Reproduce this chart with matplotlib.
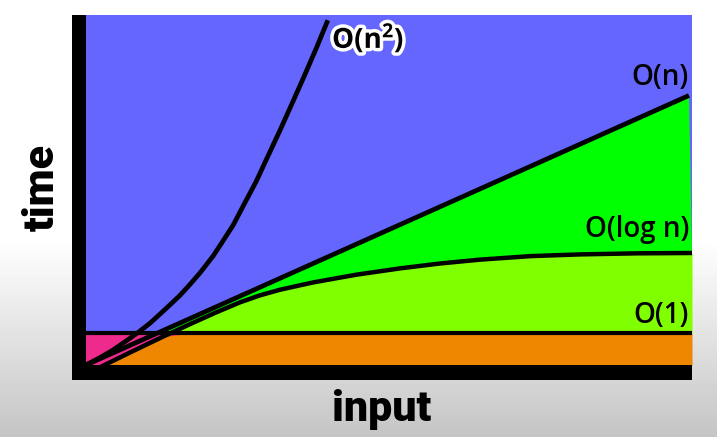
import numpy as np
import matplotlib
matplotlib.use("Agg")
import matplotlib.pyplot as plt
import matplotlib.patheffects as pe
from matplotlib.patches import Rectangle

# values (arbitrary units, x and y both 0..100)
quad_x = [0.0, 2.3, 4.3, 6.4, 8.6, 10.6, 13.0, 15.4, 17.2, 18.8, 21.0,
          22.1, 24.3, 26.2, 28.1, 30.0, 32.0, 34.0, 36.0, 38.0, 39.9]
quad_y = [0.0, 2.1, 4.1, 6.6, 9.3, 12.0, 15.8, 19.7, 23.1, 26.3, 31.2,
          34.1, 40.0, 46.3, 52.5, 59.6, 67.0, 74.7, 82.5, 90.5, 98.5]

lin_x = [0.0, 99.5]
lin_y = [0.0, 77.0]

log_x = [2.0, 7.3, 12.7, 17.2, 21.3, 25.4, 28.7, 32.0, 37.5, 44.6,
         51.8, 58.4, 65.0, 73.3, 81.5, 90.8, 100.0]
log_y = [-0.9, 3.6, 8.1, 11.7, 14.9, 17.9, 19.9, 21.5, 23.6, 25.8,
         27.6, 29.0, 30.1, 31.1, 31.6, 31.9, 32.0]

const_level = 9.1

labels = ["O(n$^2$)", "O(n)", "O(log n)", "O(1)"]

COL_BLUE = "#6466fe"
COL_GREEN = "#00ff00"
COL_LIME = "#80ff00"
COL_ORANGE = "#ee8600"
COL_PINK = "#ee2a8c"

plt.rcParams["mathtext.default"] = "regular"

W, H = 717, 437
fig = plt.figure(figsize=(W / 100, H / 100), dpi=100)

# background gradient (white top -> light gray bottom)
bg = fig.add_axes([0, 0, 1, 1], zorder=-5)
rows = np.linspace(0, 1, H)
shade = np.where(rows < 0.55, 1.0, 1.0 - (rows - 0.55) / 0.45 * 0.23)
bg.imshow(np.repeat(shade[:, None], 4, axis=1), cmap="gray", vmin=0, vmax=1,
          aspect="auto", extent=[0, 1, 0, 1], origin="upper")
bg.axis("off")

L, R, T, B = 86, 692, 15, 365
ax = fig.add_axes([L / W, 1 - B / H, (R - L) / W, (B - T) / H])
ax.set_facecolor(COL_BLUE)
ax.set_xlim(0, 100)
ax.set_ylim(0, 100)
for s in ax.spines.values():
    s.set_visible(False)
ax.set_xticks([])
ax.set_yticks([])

lx = np.array(log_x)
ly = np.array(log_y)

# between linear and log (drawn first, the lower bands cover its tail)
ax.fill(np.r_[lin_x, lx[::-1]], np.r_[lin_y, ly[::-1]], color=COL_GREEN, lw=0, zorder=0.5)
# regions under the constant line
ax.add_patch(Rectangle((0, 0), 100, const_level, color=COL_PINK, lw=0, zorder=1))
ax.fill_between(lx, -5, np.minimum(ly, const_level), color=COL_ORANGE, lw=0, zorder=2)
# between log and constant
ax.fill_between(lx, const_level, ly, where=ly >= const_level, interpolate=True,
                color=COL_LIME, lw=0, zorder=2)

lw = 3.4
ax.plot(quad_x, quad_y, color="black", lw=lw, solid_capstyle="butt",
        solid_joinstyle="round", zorder=5)
ax.plot(lin_x, lin_y, color="black", lw=lw, solid_capstyle="butt", zorder=5)
ax.plot(lx, ly, color="black", lw=3.2, solid_capstyle="butt",
        solid_joinstyle="round", zorder=5)
ax.plot([0, 100], [const_level, const_level], color="black", lw=3.0, zorder=5)

# thick axes bars
ax.add_patch(Rectangle((-14 / 6.06, -15 / 3.5), 14 / 6.06, 100 + 15 / 3.5,
                       color="black", lw=0, clip_on=False, zorder=6))
ax.add_patch(Rectangle((-14 / 6.06, -15 / 3.5), 100 + 14 / 6.06, 15 / 3.5,
                       color="black", lw=0, clip_on=False, zorder=6))

fk = dict(family=["Open Sans", "DejaVu Sans"], weight="semibold", fontsize=20,
          color="black", zorder=7)
ax.text(40.6, 90.6, labels[0], ha="left", va="baseline", clip_on=False,
        family=["Open Sans", "DejaVu Sans"], weight="bold", fontsize=20,
        color="black", zorder=7,
        path_effects=[pe.withStroke(linewidth=5, foreground="white")])
ax.text(99.5, 80.0, labels[1], ha="right", va="baseline", **fk)
ax.text(99.5, 36.6, labels[2], ha="right", va="baseline", **fk)
ax.text(99.5, 12.0, labels[3], ha="right", va="baseline", **fk)

lk = dict(family=["Roboto", "Lato", "DejaVu Sans"], weight="black", fontsize=31,
          color="black")
fig.text(382 / W, 1 - 410 / H, "input", ha="center", va="center", **lk)
fig.text(42 / W, 1 - 188 / H, "time", ha="center", va="center", rotation=90, **lk)

fig.savefig("out.png", dpi=100)
